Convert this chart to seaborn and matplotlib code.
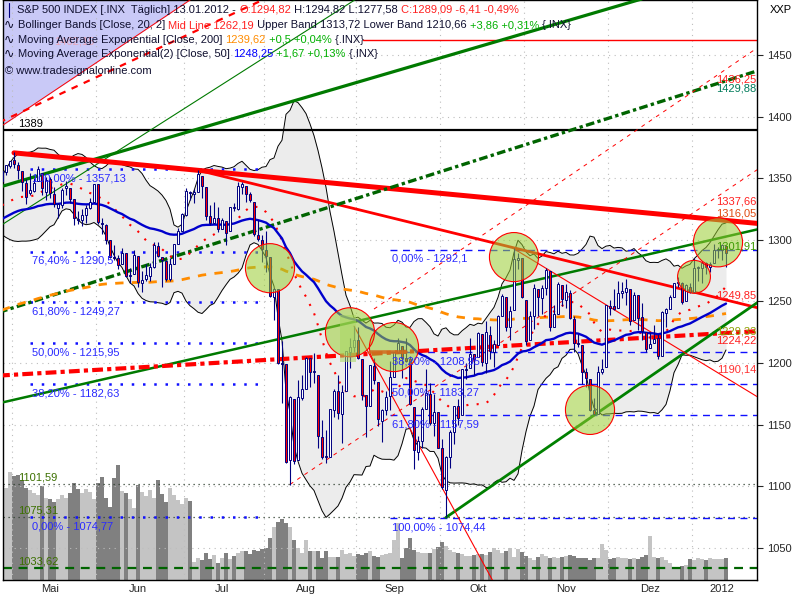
import numpy as np
import pandas as pd
import matplotlib
matplotlib.use("Agg")
import matplotlib.pyplot as plt
import seaborn as sns
from matplotlib.patches import Rectangle
from matplotlib.lines import Line2D

sns.set_style("white")
plt.rcParams['font.family'] = ['Liberation Sans', 'DejaVu Sans']

# trading days shown (S&P 500, 27.04.2011 - 13.01.2012)
holidays = ["2011-05-30", "2011-07-04", "2011-09-05", "2011-11-24", "2011-12-26", "2012-01-02"]
dates = pd.bdate_range("2011-04-27", "2012-01-13", freq="C", holidays=holidays)

# closes before the first bar, only used to warm up the Bollinger bands
prior_closes = [1328.26, 1325.83, 1332.41, 1332.87, 1332.63, 1335.54, 1333.51, 1328.17, 1324.46, 1314.16,
                1314.41, 1314.52, 1319.68, 1305.14, 1312.62, 1330.36, 1337.38, 1335.25, 1347.24]

opens = [1348, 1355, 1360,
         1365, 1361, 1356, 1346, 1338, 1340, 1348, 1354, 1339, 1349, 1337, 1326, 1328, 1342, 1342, 1333, 1317, 1316, 1320, 1326, 1331,
         1345, 1314, 1312, 1300, 1286, 1285, 1280, 1289, 1271, 1272, 1287, 1265, 1268, 1271, 1278, 1295, 1286, 1283, 1268, 1280, 1297, 1307,
         1320, 1339, 1337, 1339, 1352, 1343, 1319, 1314, 1318, 1309, 1315, 1307, 1327, 1325, 1343, 1344, 1337, 1331, 1304, 1300,
         1292, 1286, 1254, 1260, 1200, 1199, 1121, 1171, 1121, 1172, 1179, 1204, 1193, 1190, 1140, 1124, 1124, 1162, 1177, 1159, 1177, 1209, 1213,
         1219, 1203, 1174, 1165, 1198, 1185, 1153, 1162, 1173, 1189, 1209, 1214, 1204, 1203, 1164, 1128, 1137, 1163, 1175, 1151, 1160,
         1131, 1097, 1124, 1144, 1165, 1158, 1194, 1196, 1207, 1205, 1224, 1200, 1223, 1209, 1215, 1238, 1254, 1229, 1243, 1284, 1285,
         1251, 1219, 1238, 1260, 1253, 1261, 1275, 1229, 1240, 1263, 1251, 1257, 1236, 1216, 1215, 1193, 1187, 1162, 1159, 1193, 1197,
         1246, 1246, 1245, 1257, 1258, 1260, 1235, 1255, 1237, 1225, 1212, 1216, 1220, 1206, 1241, 1244, 1254, 1265, 1265, 1250, 1262,
         1258, 1277, 1277, 1281, 1278, 1281, 1292, 1292, 1294.82]
highs = [1357, 1361, 1364,
         1371, 1363, 1356, 1349, 1354, 1350, 1360, 1354, 1351, 1351, 1343, 1330, 1342, 1348, 1342, 1333, 1323, 1325, 1328, 1334, 1345,
         1345, 1318, 1313, 1300, 1296, 1288, 1293, 1289, 1277, 1292, 1287, 1275, 1280, 1281, 1298, 1298, 1286, 1284, 1285, 1297, 1310, 1322,
         1342, 1340, 1341, 1357, 1352, 1343, 1328, 1331, 1327, 1318, 1315, 1327, 1330, 1347, 1347, 1344, 1339, 1331, 1316, 1304,
         1307, 1286, 1261, 1260, 1218, 1199, 1173, 1171, 1186, 1190, 1205, 1204, 1208, 1190, 1154, 1146, 1163, 1179, 1190, 1182, 1210, 1220, 1230,
         1229, 1203, 1174, 1198, 1204, 1185, 1163, 1177, 1202, 1209, 1220, 1214, 1220, 1206, 1164, 1141, 1164, 1195, 1184, 1175, 1160,
         1138, 1125, 1146, 1165, 1171, 1195, 1200, 1220, 1207, 1225, 1224, 1234, 1230, 1219, 1239, 1256, 1254, 1246, 1293, 1289, 1285,
         1251, 1242, 1264, 1260, 1263, 1277, 1275, 1247, 1266, 1263, 1264, 1259, 1238, 1224, 1215, 1196, 1187, 1172, 1198, 1203, 1247,
         1251, 1260, 1267, 1266, 1268, 1260, 1258, 1255, 1249, 1225, 1225, 1231, 1224, 1242, 1245, 1255, 1265, 1270, 1266, 1264, 1265,
         1285, 1279, 1283, 1282, 1282, 1297, 1294, 1297, 1294.82]
lows = [1344, 1353, 1358,
        1358, 1349, 1340, 1329, 1336, 1339, 1348, 1336, 1332, 1334, 1327, 1318, 1326, 1336, 1330, 1312, 1313, 1311, 1314, 1325, 1331,
        1313, 1305, 1297, 1285, 1284, 1276, 1280, 1270, 1265, 1272, 1262, 1258, 1267, 1267, 1277, 1286, 1262, 1267, 1267, 1280, 1297, 1307,
        1319, 1332, 1330, 1339, 1334, 1316, 1312, 1314, 1306, 1309, 1296, 1307, 1323, 1324, 1337, 1331, 1331, 1303, 1299, 1282,
        1274, 1254, 1235, 1199, 1168, 1119, 1101, 1118, 1121, 1170, 1179, 1181, 1184, 1131, 1122, 1119, 1124, 1156, 1155, 1135, 1177, 1196, 1209,
        1203, 1170, 1140, 1165, 1183, 1149, 1136, 1158, 1162, 1189, 1208, 1188, 1201, 1166, 1114, 1121, 1131, 1163, 1150, 1141, 1131,
        1098, 1075, 1115, 1134, 1150, 1158, 1187, 1196, 1190, 1205, 1198, 1192, 1203, 1197, 1215, 1238, 1226, 1219, 1243, 1276, 1253,
        1215, 1219, 1228, 1238, 1240, 1255, 1226, 1229, 1240, 1246, 1245, 1236, 1209, 1213, 1183, 1181, 1161, 1158, 1159, 1191, 1197,
        1239, 1243, 1245, 1253, 1247, 1231, 1235, 1227, 1219, 1209, 1212, 1216, 1203, 1206, 1229, 1244, 1254, 1262, 1248, 1250, 1257,
        1258, 1267, 1265, 1272, 1274, 1281, 1285, 1284, 1277.58]
closes = [1355.66, 1360.48, 1363.61,
          1361.22, 1356.62, 1347.32, 1335.10, 1340.20, 1346.29, 1357.16, 1342.08, 1348.65, 1337.77, 1329.47, 1328.98, 1340.68,
          1343.60, 1333.27, 1317.37, 1316.28, 1320.47, 1325.69, 1331.10, 1345.20,
          1314.55, 1312.94, 1300.16, 1286.17, 1284.94, 1279.56, 1289.00, 1270.98, 1271.83, 1287.87, 1265.42, 1267.64, 1271.50,
          1278.36, 1295.52, 1287.14, 1283.50, 1268.45, 1280.10, 1296.67, 1307.41, 1320.64,
          1339.67, 1337.88, 1339.22, 1353.22, 1343.80, 1319.49, 1313.64, 1317.72, 1308.87, 1316.14, 1305.44, 1326.73, 1325.84,
          1343.80, 1345.02, 1337.43, 1331.94, 1304.89, 1300.67, 1292.28,
          1286.94, 1254.05, 1260.34, 1200.07, 1199.38, 1119.46, 1172.53, 1120.76, 1172.64, 1178.81, 1204.49, 1192.76, 1193.89,
          1140.65, 1123.53, 1123.82, 1162.35, 1177.60, 1159.27, 1176.80, 1210.08, 1212.92, 1218.89,
          1204.42, 1173.97, 1165.24, 1198.62, 1185.90, 1154.23, 1162.27, 1172.87, 1188.68, 1209.11, 1216.01, 1204.09, 1202.09,
          1166.76, 1129.56, 1136.43, 1162.95, 1175.38, 1151.06, 1160.40, 1131.42,
          1099.23, 1123.95, 1144.03, 1164.97, 1155.46, 1194.89, 1195.54, 1207.25, 1203.66, 1224.58, 1200.86, 1225.38, 1209.88,
          1215.39, 1238.25, 1254.19, 1229.05, 1242.00, 1284.59, 1285.09, 1253.30,
          1218.28, 1237.90, 1261.15, 1253.23, 1261.12, 1275.92, 1229.10, 1239.69, 1263.85, 1251.78, 1257.81, 1236.91, 1216.13,
          1215.65, 1192.98, 1188.04, 1161.79, 1158.67, 1192.55, 1195.19, 1246.96,
          1244.58, 1244.28, 1257.08, 1258.47, 1261.01, 1234.35, 1255.19, 1236.47, 1225.73, 1211.82, 1215.75, 1219.66, 1205.35,
          1241.30, 1243.72, 1254.00, 1265.33, 1265.43, 1249.64, 1263.02, 1257.60,
          1277.06, 1277.30, 1281.06, 1277.81, 1280.70, 1292.08, 1292.48, 1295.50, 1289.09]
volume = [99, 92, 108,
          104, 105, 100, 92, 90, 87, 85, 94, 82, 81, 78, 81, 85, 82, 87, 97, 91, 87, 91, 88, 81,
          97, 103, 82, 73, 102, 115, 89, 87, 81, 72, 95, 88, 84, 90, 82, 100, 86, 78, 92, 85, 80, 76,
          82, 79, 18, 22, 20, 27, 21, 25, 17, 22, 27, 21, 24, 27, 29, 29, 26, 30, 29, 31,
          32, 42, 53, 58, 61, 57, 53, 40, 32, 27, 40, 29, 29, 29, 22, 29, 23, 23, 23, 30, 26, 27, 24,
          26, 25, 27, 29, 24, 23, 25, 26, 27, 40, 57, 22, 32, 42, 30, 28, 27, 27, 27, 31, 33,
          38, 34, 30, 28, 27, 26, 24, 24, 25, 26, 26, 25, 28, 32, 30, 27, 29, 32, 23, 31, 28,
          24, 22, 20, 23, 26, 24, 22, 23, 22, 23, 24, 25, 24, 22, 22, 22, 20, 22, 22, 36, 30,
          21, 22, 23, 22, 22, 21, 22, 21, 23, 25, 44, 23, 22, 23, 20, 17, 12, 12, 14, 15, 21,
          20, 22, 21, 20, 22, 21, 21, 21, 22]

# indicator start values at the first bar
ema50_start = 1317.0
ema200_start = 1243.0

# fibonacci retracements (left set dotted, right set dashed)
fib1_labels = ["100,00% - 1357,13", "76,40% - 1290,5", "61,80% - 1249,27", "50,00% - 1215,95", "38,20% - 1182,63", "0,00% - 1074,77"]
fib1_levels = [1357.13, 1290.5, 1249.27, 1215.95, 1182.63, 1074.77]
fib2_labels = ["0,00% - 1292,1", "38,20% - 1208,95", "50,00% - 1183,27", "61,80% - 1157,59", "100,00% - 1074,44"]
fib2_levels = [1292.1, 1208.95, 1183.27, 1157.59, 1074.44]

# horizontal levels
level_1389 = 1389
level_red = 1462.15
dotted_levels = [1101.59, 1075.31]
green_level = 1033.62

# trend lines: (date1, price1, date2, price2)
trend_anchors = {
    "green_top": ("2011-04-27", 1343.4, "2011-11-29", 1486.0),
    "green_thin": ("2011-04-27", 1312.3, "2011-08-19", 1477.7),
    "red_top": ("2011-05-02", 1370.58, "2012-01-12", 1316.05),
    "red_mid": ("2011-07-07", 1356.5, "2012-01-12", 1252.0),
    "green_dashdot": ("2011-04-27", 1242.0, "2012-01-12", 1428.0),
    "green_low": ("2011-04-27", 1168.0, "2012-01-12", 1301.9),
    "red_dashdot": ("2011-04-27", 1190.0, "2012-01-12", 1224.2),
    "green_support": ("2011-10-04", 1074.77, "2012-01-12", 1229.3),
    "red_thin_oct": ("2011-10-27", 1292.7, "2012-01-12", 1190.1),
    "red_thin_steep": ("2011-08-31", 1230.0, "2011-10-03", 1099.0),
    "red_dash_tl": ("2011-04-27", 1396.4, "2011-06-23", 1456.7),
    "lav_edge": ("2011-04-27", 1392.6, "2011-06-23", 1479.4),
    "red_dash_a": ("2011-10-21", 1312.4, "2012-01-12", 1436.25),
    "red_dash_b": ("2011-08-09", 1101.54, "2012-01-12", 1337.66),
}
trend_start = {"red_dash_a": "2011-09-08"}

# highlighted turning points
circle_dates = ["2011-08-02", "2011-08-30", "2011-09-15", "2011-10-27", "2011-11-23", "2012-01-03", "2012-01-11"]
circle_prices = [1277, 1225, 1213, 1286, 1162, 1270, 1298]
circle_big = [True, True, True, True, True, False, True]
# marked zone inside the second circle and the 38,2% mark inside the third
box_dates = ("2011-08-26", "2011-08-31")
box_prices = (1201, 1239)
mark_dates = ("2011-09-07", "2011-09-20")
mark_price = 1208.95

right_labels = ["1436,25", "1429,88", "1337,66", "1316,05", "1301,91", "1249,85", "1229,33", "1224,22", "1190,14"]
right_label_prices = [1430.5, 1422.4, 1331.5, 1321.0, 1294.2, 1254.5, 1225.3, 1218.0, 1194.4]
right_label_colors = ["#ff2020", "#007a5a", "#ff2020", "#e04a10", "#3a9a00", "#ff2020", "#8aa000", "#ff2020", "#ff3030"]

month_names = ["Mai", "Jun", "Jul", "Aug", "Sep", "Okt", "Nov", "Dez", "2012"]
month_label_days = ["2011-05-13", "2011-06-15", "2011-07-15", "2011-08-15", "2011-09-15", "2011-10-14",
                    "2011-11-15", "2011-12-15", "2012-01-12"]

# ------------------------------------------------------------------
n = len(dates)
idx = np.arange(n)
pos = {d.strftime("%Y-%m-%d"): i for i, d in enumerate(dates)}
o = np.array(opens, float); h = np.array(highs, float)
l = np.array(lows, float); c = np.array(closes, float)

allc = pd.Series(prior_closes + closes)
mid = allc.rolling(20).mean().values[-n:]
sd = allc.rolling(20).std(ddof=0).values[-n:]
upper, lower = mid + 2 * sd, mid - 2 * sd


def ema(values, start, period):
    a = 2.0 / (period + 1)
    out = [start]
    for v in values[1:]:
        out.append(out[-1] + a * (v - out[-1]))
    return np.array(out)


ema50 = ema(c, ema50_start, 50)
ema200 = ema(c, ema200_start, 200)

XMIN, XMAX = 0.25, 188.75
YMIN, YMAX = 1024.0, 1494.6

fig = plt.figure(figsize=(8, 6), dpi=100)
axv = fig.add_axes([3 / 800, 20 / 600, 754 / 800, 580 / 600])
ax = fig.add_axes([3 / 800, 20 / 600, 754 / 800, 580 / 600])
ax.patch.set_visible(False)
axv.set_zorder(0)
ax.set_zorder(1)

# volume
vol_colors = ["#c4c4c4" if cc >= oo else "#808080" for oo, cc in zip(o, c)]
axv.bar(idx, volume, width=0.95, color=vol_colors, linewidth=0)
axv.set_xlim(XMIN, XMAX)
axv.set_ylim(0, 580)
axv.set_xticks([]); axv.set_yticks([])
for s in axv.spines.values():
    s.set_visible(False)

ax.set_xlim(XMIN, XMAX)
ax.set_ylim(YMIN, YMAX)

# grid & axes
month_starts = [i for i in range(1, n) if dates[i].month != dates[i - 1].month]
ax.set_xticks([i - 0.5 for i in month_starts])
ax.set_xticks([pos[d] for d in month_label_days], minor=True)
ax.set_xticklabels([])
ax.set_xticklabels(month_names, minor=True)
ax.tick_params(axis="x", which="major", length=4, direction="out", color="black", width=0.8)
ax.tick_params(axis="x", which="minor", length=0, labelsize=8, pad=3)
ax.yaxis.tick_right()
ax.set_yticks(np.arange(1050, 1451, 50))
ax.tick_params(axis="y", length=4, direction="out", labelsize=8, pad=3, width=0.8)
ax.grid(True, which="major", color="#bdbdbd", linestyle=(0, (1, 4)), linewidth=0.8)
for s in ax.spines.values():
    s.set_color("black"); s.set_linewidth(1.0)

# lavender area top left
ld1, lp1, ld2, lp2 = trend_anchors["lav_edge"]
lslope = (lp2 - lp1) / (pos[ld2] - pos[ld1])
x_hit = pos[ld1] + (YMAX - lp1) / lslope
lx = np.linspace(-1, x_hit, 50)
ax.fill_between(lx, lp1 + lslope * (lx - pos[ld1]), YMAX, color="#c9c9f7", zorder=0.5, linewidth=0)

# bollinger
ax.fill_between(idx, lower, upper, color="#ececec", zorder=1, linewidth=0)
ax.plot(idx, upper, color="black", lw=0.7, zorder=1.5)
ax.plot(idx, lower, color="black", lw=0.7, zorder=1.5)
ax.plot(idx, mid, color="red", lw=1.5, linestyle=(0, (1, 4)), zorder=4)

# horizontal levels
ax.axhline(level_1389, color="black", lw=1.6, zorder=2)
ax.plot([pos["2011-09-02"] + 0.2, XMAX], [level_red, level_red], color="red", lw=1.0, zorder=2)
for v in dotted_levels:
    ax.axhline(v, color="#304030", lw=0.9, linestyle=(0, (1, 3)), zorder=2)
ax.axhline(green_level, color="#006400", lw=1.6, linestyle=(0, (4, 3)), zorder=2)

# fibonacci lines
f1a, f1b = pos["2011-05-06"], month_starts[3] - 0.5
for lab, v in zip(fib1_labels, fib1_levels):
    ax.plot([f1a, f1b], [v, v], color="#1010ff", lw=1.8, linestyle=(0, (1, 3.5)), zorder=2.5)
    ax.annotate(lab, (f1a + 0.5, v), xytext=(0, -3), textcoords="offset points", va="top", ha="left",
                color="#2a2aff", fontsize=8, zorder=7)
f2a = pos["2011-09-14"]
for lab, v in zip(fib2_labels, fib2_levels):
    ax.plot([f2a, XMAX], [v, v], color="#1010ff", lw=1.0, linestyle=(0, (5, 4)), zorder=2.5)
    ax.annotate(lab, (f2a + 0.5, v), xytext=(0, -3), textcoords="offset points", va="top", ha="left",
                color="#2a2aff", fontsize=8, zorder=7)

# trend lines
styles = {
    "green_top": dict(color="#007a00", lw=2.3),
    "green_thin": dict(color="#007a00", lw=0.8),
    "red_top": dict(color="#ff0000", lw=3.6),
    "red_mid": dict(color="#ff0000", lw=2.0),
    "green_dashdot": dict(color="#006400", lw=2.4, linestyle=(0, (2.6, 1.0, 1.0, 1.0))),
    "green_low": dict(color="#007a00", lw=1.8),
    "red_dashdot": dict(color="#ff0000", lw=3.0, linestyle=(0, (2.6, 1.0, 1.0, 1.0))),
    "green_support": dict(color="#008000", lw=2.0),
    "red_thin_oct": dict(color="#ff0000", lw=0.8),
    "red_thin_steep": dict(color="#ff0000", lw=0.8),
    "red_dash_tl": dict(color="#ff0000", lw=1.6, linestyle=(0, (3, 3))),
    "lav_edge": dict(color="#ff0000", lw=0.7),
    "red_dash_a": dict(color="#ff0000", lw=0.7, linestyle=(0, (4, 5))),
    "red_dash_b": dict(color="#ff0000", lw=0.7, linestyle=(0, (4, 5))),
}
left_start = {"green_top", "green_thin", "green_dashdot", "green_low", "red_dashdot", "red_dash_tl", "lav_edge"}
for name, (d1, p1, d2, p2) in trend_anchors.items():
    i1, i2 = pos[d1], pos[d2]
    slope = (p2 - p1) / (i2 - i1)
    if name in left_start:
        xs0 = -1
    elif name in trend_start:
        xs0 = pos[trend_start[name]]
    else:
        xs0 = i1
    xs = np.array([xs0, XMAX + 1])
    sns.lineplot(x=xs, y=p1 + slope * (xs - i1), ax=ax, zorder=3, **styles[name])

# moving averages
sns.lineplot(x=idx, y=ema200, ax=ax, color="#ff8c00", lw=2.0, linestyle=(0, (3, 3)), zorder=3.5)
sns.lineplot(x=idx, y=ema50, ax=ax, color="#0000cc", lw=1.7, zorder=4.5)

# candles
up = c >= o
ax.vlines(idx, l, h, color="#000080", lw=0.8, zorder=5)
body_lo = np.minimum(o, c)
body_h = np.maximum(np.abs(c - o), 0.6)
ax.bar(idx[up], body_h[up], bottom=body_lo[up], width=0.62, color="white", edgecolor="#000080", linewidth=0.7, zorder=5.5)
ax.bar(idx[~up], body_h[~up], bottom=body_lo[~up], width=0.62, color="#ff0000", edgecolor="#000080", linewidth=0.7, zorder=5.5)

# circles and marks
cx = [pos[d] for d in circle_dates]
sizes = [1250 if b else 560 for b in circle_big]
ax.scatter(cx, circle_prices, s=sizes, facecolor="#9acd32", alpha=0.55, edgecolor="none", zorder=6)
ax.scatter(cx, circle_prices, s=sizes, facecolor="none", edgecolor="#ff0000", linewidth=0.8, zorder=6)
bx0, bx1 = pos[box_dates[0]] - 0.5, pos[box_dates[1]] + 0.5
ax.add_patch(Rectangle((bx0, box_prices[0]), bx1 - bx0, box_prices[1] - box_prices[0],
                       facecolor="#a8d860", alpha=0.55, edgecolor="none", zorder=6))
ax.plot([pos[mark_dates[0]], pos[mark_dates[1]]], [mark_price, mark_price], color="#d2691e", lw=2.6,
        alpha=0.85, zorder=6)

# level labels
lab_x = pos["2011-05-03"]
ax.text(lab_x, level_1389 + 1, "1389", va="bottom", ha="left", fontsize=8, color="black", zorder=7)
for v in dotted_levels + [green_level]:
    ax.annotate(("%.2f" % v).replace(".", ","), (lab_x, v), xytext=(0, 1),
                textcoords="offset points", va="bottom", ha="left", fontsize=8, color="#3c7000", zorder=7)
ax.text(pos["2011-05-16"], level_red - 4, "1462,15", fontsize=8, color="#ff9090", alpha=0.6, zorder=0.8)
for lab, v, col in zip(right_labels, right_label_prices, right_label_colors):
    ax.text(XMAX - 0.2, v, lab, ha="right", va="center", fontsize=8, color=col, zorder=7)

# legend rows
def row(x, y, parts):
    prev = None
    for s, col in parts:
        if prev is None:
            prev = ax.annotate(s, xy=(x / 800, 1 - y / 600), xycoords="figure fraction", va="center",
                               ha="left", color=col, fontsize=8, zorder=8, annotation_clip=False)
        else:
            prev = ax.annotate(s, xy=(1, 0), xycoords=prev, va="bottom", ha="left", color=col,
                               fontsize=8, zorder=8, annotation_clip=False)


dark = "#101030"
row(17, 10, [("S&P 500 INDEX [.INX  Täglich] 13.01.2012 - ", dark), ("O:1294,82", "#ff2020"),
             (" H:1294,82 L:1277,58 ", dark), ("C:1289,09 -6,41 -0,49%", "#ff2020")])
row(18, 25, [("Bollinger Bands [Close, 20, 2] ", dark), ("Mid Line 1262,19", "#ff2020"),
             (" Upper Band 1313,72 Lower Band 1210,66 ", dark), ("+3,86 +0,31%", "#00b000"), (" {.INX}", dark)])
row(18, 40, [("Moving Average Exponential [Close, 200] ", dark), ("1239,62", "#ff8c00"),
             (" +0,5 +0,04%", "#00b000"), (" {.INX}", dark)])
row(18, 54, [("Moving Average Exponential(2) [Close, 50] ", dark), ("1248,25", "#0000ff"),
             (" +1,67 +0,13%", "#00b000"), (" {.INX}", dark)])
row(5, 71, [("© www.tradesignalonline.com", dark)])
for yy in (25, 40, 54):
    fig.text(4 / 800, 1 - yy / 600, "∿", fontsize=9, va="center", ha="left", color=dark,
             family=["DejaVu Sans"], zorder=9)
fig.add_artist(Line2D([8.5 / 800, 8.5 / 800], [1 - 3 / 600, 1 - 17 / 600], color="#000080", lw=0.8))
fig.add_artist(Rectangle((6.5 / 800, 1 - 14 / 600), 4 / 800, 8 / 600, facecolor="white", edgecolor="#000080", lw=0.8))

fig.text(770 / 800, 1 - 10 / 600, "XXP", fontsize=8, va="center", ha="left", color="black")

fig.savefig("out.png", dpi=100)
